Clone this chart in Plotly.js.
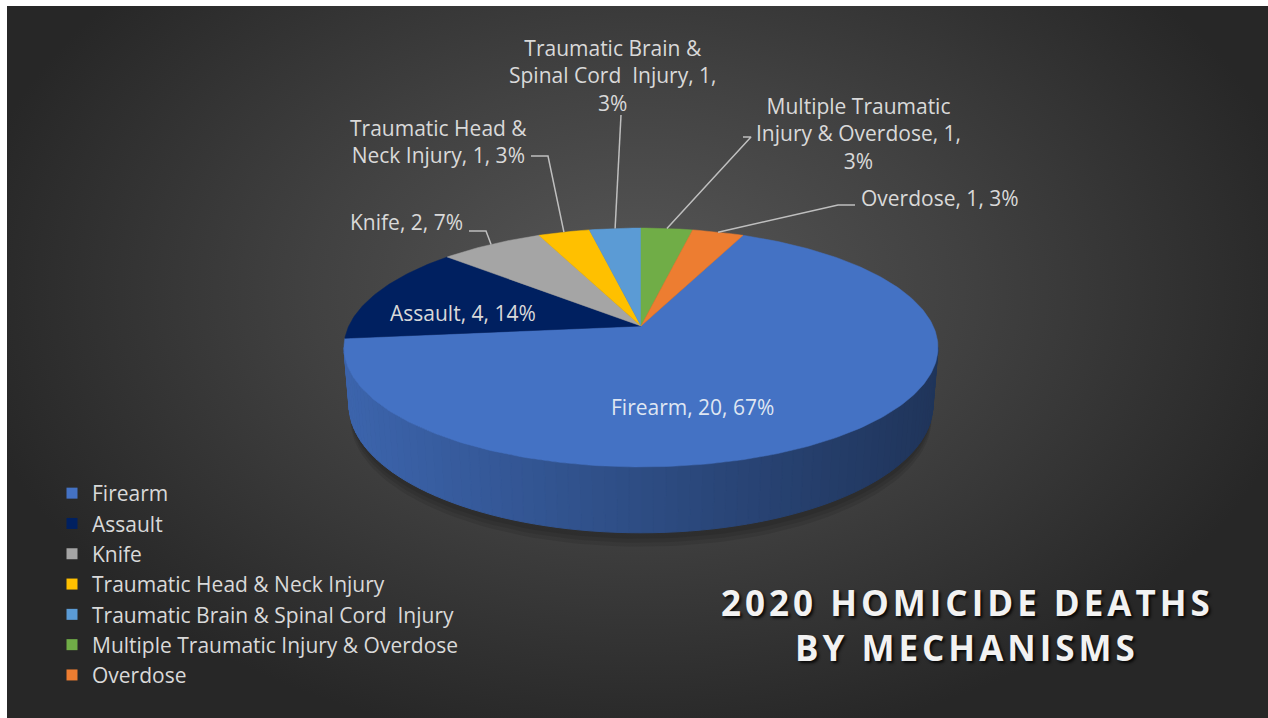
<!DOCTYPE html>
<html><head><meta charset="utf-8">
<script src="https://cdn.plot.ly/plotly-3.0.1.min.js"></script>
<style>
html,body{margin:0;padding:0;background:#ffffff;width:1268px;height:718px;overflow:hidden}
#chart{position:absolute;left:7px;top:6px;width:1261px;height:712px;
background:radial-gradient(ellipse 680px 460px at 630px 285px,#575757 0%,#414141 48%,#272727 100%);}
</style></head><body><div id="chart"></div>
<script>
// ---------------- data ----------------
const categories = ['Firearm', 'Assault', 'Knife', 'Traumatic Head & Neck Injury',
  'Traumatic Brain & Spinal Cord  Injury', 'Multiple Traumatic Injury & Overdose', 'Overdose'];
const counts = [20, 4, 2, 1, 1, 1, 1];
const percentLabels = ['67%', '14%', '7%', '3%', '3%', '3%', '3%'];
const chartTitleLines = ['2020 HOMICIDE DEATHS', 'BY MECHANISMS'];

// ---------------- style ----------------
const sliceColors = ['#4472C4', '#002060', '#A5A5A5', '#FFC000', '#5B9BD5', '#70AD47', '#ED7D31'];
const firstSliceAngle = 24;              // degrees clockwise from 12 o'clock
const view = {cx: 641, cy: 326, f: 1490, D: 5.1, tilt: 23.3, h: 0.214};
const labelFont = {family: '"Open Sans", Lato, sans-serif', size: 21, color: '#d9d9d9'};
const labelPlacement = [
  {x: 692, y: 407, anchor: 'center', wrap: 0, leader: null, color: '#dfe6f2'},
  {x: 463, y: 313, anchor: 'center', wrap: 0, leader: null},
  {x: 465, y: 222, anchor: 'right', wrap: 0, leader: [[469, 231], [486, 231]]},
  {x: 438, y: 141, anchor: 'center', wrap: 18, leader: [[531, 156], [548, 156]]},
  {x: 613, y: 75, anchor: 'center', wrap: 23, leader: [[621, 115]]},
  {x: 858, y: 133, anchor: 'center', wrap: 23, leader: [[743, 137], [751, 137]]},
  {x: 940, y: 198, anchor: 'center', wrap: 0, leader: [[855, 205], [838, 205]]}
];

// ---------------- geometry ----------------
const rad = Math.PI / 180;
const sT = Math.sin(view.tilt * rad), cT = Math.cos(view.tilt * rad);
function proj(phiDeg, Y) {
  const X = Math.sin(phiDeg * rad), Z = Math.cos(phiDeg * rad);
  const d = view.D - Y * sT + Z * cT;
  return [view.cx + view.f * X / d, view.cy - view.f * (Y * cT + Z * sT) / d];
}
const total = counts.reduce((a, b) => a + b, 0);
const slices = [];
let acc = firstSliceAngle;
counts.forEach((v, i) => {
  const span = v / total * 360;
  slices.push({a0: acc, a1: acc + span, mid: acc + span / 2});
  acc += span;
});

function shade(hex, k) {
  const n = parseInt(hex.slice(1), 16);
  const r = Math.round(((n >> 16) & 255) * k), g = Math.round(((n >> 8) & 255) * k), b = Math.round((n & 255) * k);
  return `rgb(${r},${g},${b})`;
}

const traces = [];
// soft shadow beneath the pie (offset downward)
[14, 10, 6].forEach((off) => {
  const xs = [], ys = [];
  for (let a = 0; a <= 360; a += 2) {
    const p = proj(a, -view.h);
    xs.push(view.cx + (p[0] - view.cx) * 0.995);
    ys.push(p[1] + off);
  }
  traces.push({type: 'scatter', x: xs, y: ys, mode: 'lines', fill: 'toself',
    fillcolor: 'rgba(0,0,0,0.09)', line: {width: 0}, hoverinfo: 'skip', showlegend: false});
});

// side walls (front-facing part only)
const silhouette = Math.acos(-cT / view.D) / rad;
const leftX = proj(360 - silhouette, 0)[0], rightX = proj(silhouette, 0)[0];
slices.forEach((s, i) => {
  const a0 = Math.max(s.a0, silhouette), a1 = Math.min(s.a1, 360 - silhouette);
  if (a1 <= a0) return;
  const steps = Math.ceil((a1 - a0) / 2);
  for (let k = 0; k < steps; k++) {
    const b0 = a0 + (a1 - a0) * k / steps, b1 = a0 + (a1 - a0) * (k + 1) / steps;
    const p0 = proj(b0, 0), p1 = proj(b1, 0), q1 = proj(b1, -view.h), q0 = proj(b0, -view.h);
    const t = ((p0[0] + p1[0]) / 2 - leftX) / (rightX - leftX);
    const col = shade(sliceColors[i], 0.88 - 0.42 * t);
    traces.push({type: 'scatter', x: [p0[0], p1[0], q1[0], q0[0], p0[0]], y: [p0[1], p1[1], q1[1], q0[1], p0[1]],
      mode: 'lines', fill: 'toself', fillcolor: col, line: {color: col, width: 1},
      hoverinfo: 'skip', showlegend: false});
  }
});

// top faces
slices.forEach((s, i) => {
  const xs = [view.cx], ys = [view.cy];
  const n = Math.max(2, Math.ceil(s.a1 - s.a0));
  for (let k = 0; k <= n; k++) {
    const p = proj(s.a0 + (s.a1 - s.a0) * k / n, 0);
    xs.push(p[0]); ys.push(p[1]);
  }
  xs.push(view.cx); ys.push(view.cy);
  traces.push({type: 'scatter', x: xs, y: ys, mode: 'lines', fill: 'toself',
    fillcolor: sliceColors[i], line: {color: sliceColors[i], width: 0.5},
    name: categories[i], hoverinfo: 'name', showlegend: false});
});

// leader lines
slices.forEach((s, i) => {
  const L = labelPlacement[i].leader;
  if (!L) return;
  const rim = proj(s.mid, 0);
  const pts = L.concat([rim]);
  traces.push({type: 'scatter', x: pts.map(p => p[0]), y: pts.map(p => p[1]), mode: 'lines',
    line: {color: '#bfbfbf', width: 1.5}, hoverinfo: 'skip', showlegend: false});
});

// legend entries
categories.forEach((c, i) => {
  traces.push({type: 'scatter', x: [null], y: [null], mode: 'markers', name: c,
    marker: {symbol: 'square', size: 11, color: sliceColors[i]}, showlegend: true});
});

// labels
function wrap(text, width) {
  if (!width) return text;
  const words = text.split(' ');
  const lines = []; let cur = '';
  words.forEach(w => {
    const cand = cur === '' ? w : cur + ' ' + w;
    if (cand.length > width && cur !== '') { lines.push(cur); cur = w; } else cur = cand;
  });
  lines.push(cur);
  return lines.join('<br>');
}
const annotations = categories.map((c, i) => {
  const lp = labelPlacement[i];
  return {x: lp.x, y: lp.y, xref: 'x', yref: 'y', xanchor: lp.anchor, yanchor: 'middle',
    text: wrap(`${c}, ${counts[i]}, ${percentLabels[i]}`, lp.wrap), showarrow: false,
    align: 'center', font: Object.assign({}, labelFont, lp.color ? {color: lp.color} : {})};
});
const titleFont = {family: '"Open Sans", Lato, sans-serif', size: 35, color: '#f2f2f2', weight: 700,
  shadow: '2px 2px 3px rgba(0,0,0,0.85)'};
annotations.push({x: 967, y: 602, xref: 'x', yref: 'y', xanchor: 'center', yanchor: 'middle',
  text: chartTitleLines[0], showarrow: false, font: titleFont});
annotations.push({x: 967, y: 647, xref: 'x', yref: 'y', xanchor: 'center', yanchor: 'middle',
  text: chartTitleLines[1], showarrow: false, font: titleFont});

const layout = {
  width: 1261, height: 712,
  margin: {l: 0, r: 0, t: 0, b: 0, pad: 0},
  paper_bgcolor: 'rgba(0,0,0,0)', plot_bgcolor: 'rgba(0,0,0,0)',
  xaxis: {range: [7, 1268], visible: false, fixedrange: true},
  yaxis: {range: [718, 6], visible: false, fixedrange: true},
  showlegend: true,
  legend: {x: (52 - 7) / 1261, y: 1 - (473 - 6) / 712, xanchor: 'left', yanchor: 'top',
    bgcolor: 'rgba(0,0,0,0)', font: {family: '"Open Sans", Lato, sans-serif', size: 21, color: '#d9d9d9'},
    tracegroupgap: 0},
  annotations: annotations
};
Plotly.newPlot('chart', traces, layout, {staticPlot: true, displayModeBar: false}).then(() => {
  document.querySelectorAll('#chart .annotation-text').forEach(el => {
    if (chartTitleLines.includes(el.textContent)) el.style.letterSpacing = '4px';
  });
});
</script></body></html>
